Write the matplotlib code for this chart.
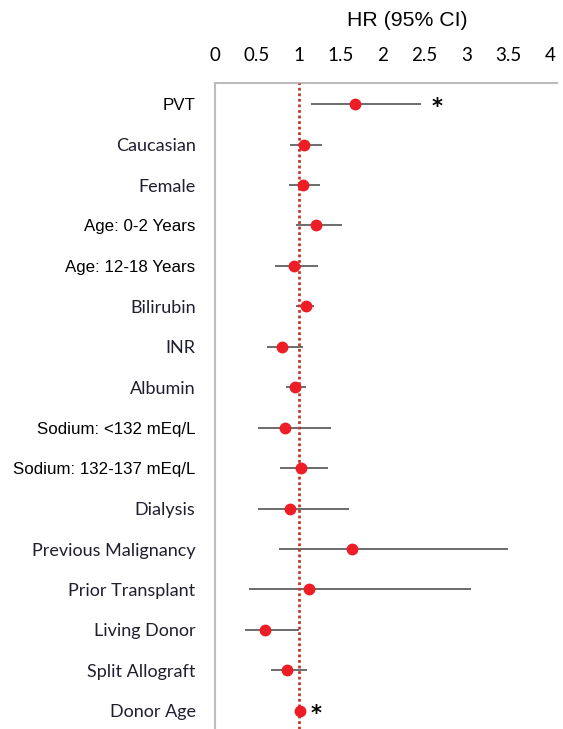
import matplotlib.pyplot as plt
import numpy as np

# hazard ratios
labels = ["PVT", "Caucasian", "Female", "Age: 0-2 Years", "Age: 12-18 Years",
          "Bilirubin", "INR", "Albumin", "Sodium: <132 mEq/L",
          "Sodium: 132-137 mEq/L", "Dialysis", "Previous Malignancy",
          "Prior Transplant", "Living Donor", "Split Allograft", "Donor Age"]
hr = [1.67, 1.06, 1.05, 1.20, 0.94, 1.08, 0.80, 0.95, 0.84, 1.02, 0.90, 1.63,
      1.12, 0.60, 0.86, 1.01]
ci_low = [1.14, 0.89, 0.88, 0.97, 0.71, 0.97, 0.62, 0.85, 0.51, 0.78, 0.51, 0.76,
          0.40, 0.36, 0.67, 1.00]
ci_high = [2.46, 1.28, 1.25, 1.52, 1.23, 1.18, 1.05, 1.08, 1.39, 1.35, 1.60, 3.50,
           3.06, 1.00, 1.10, 1.02]
significant = ["PVT", "Donor Age"]

# labels set in Arial in the original, the rest look like Calibri
arial_rows = ["PVT", "Age: 0-2 Years", "Age: 12-18 Years",
              "Sodium: <132 mEq/L", "Sodium: 132-137 mEq/L"]

fig = plt.figure(figsize=(5.63, 7.29), dpi=100)
ax = fig.add_axes([0.382, 0.0, 0.607, 0.886])

y = np.arange(len(labels))
ax.hlines(y, ci_low, ci_high, color="#6b6b6b", linewidth=1.4, zorder=2)
ax.axvline(1, color="#c0392b", linestyle=(0, (1, 1)), linewidth=2, zorder=3)
ax.plot(hr, y, "o", color="#ee1c25", markersize=7.5, zorder=4)

for i, name in enumerate(labels):
    if name in significant:
        ax.text(ci_high[i] + 0.12, i + 0.08, "*", fontsize=15, fontweight="bold",
                ha="left", va="center", color="black")

ax.set_xlim(0, 4.08)
ax.set_ylim(15.45, -0.52)
ax.xaxis.tick_top()
ax.set_xticks([0, 0.5, 1, 1.5, 2, 2.5, 3, 3.5, 4])
ax.set_xticklabels(["0", "0.5", "1", "1.5", "2", "2.5", "3", "3.5", "4"],
                   family="Lato", fontsize=13.5)
ax.tick_params(axis="x", length=0, pad=14, colors="black")
ax.tick_params(axis="y", length=0, pad=14)
ax.set_yticks(y)
ax.set_yticklabels(labels)
for t in ax.get_yticklabels():
    if t.get_text() in arial_rows:
        t.set_family("Liberation Sans")
        t.set_fontsize(12.2)
    else:
        t.set_family("Lato")
        t.set_fontsize(13)
        t.set_color("#1f1f2e")

for side in ["right", "bottom"]:
    ax.spines[side].set_visible(False)
for side in ["left", "top"]:
    ax.spines[side].set_color("#bdbdbd")
    ax.spines[side].set_linewidth(1.5)

fig.text(407 / 563, 1 - 20 / 729, "HR (95% CI)", family="Liberation Sans",
         fontsize=15.3, ha="center", va="center")

fig.savefig("out.png", dpi=100)
